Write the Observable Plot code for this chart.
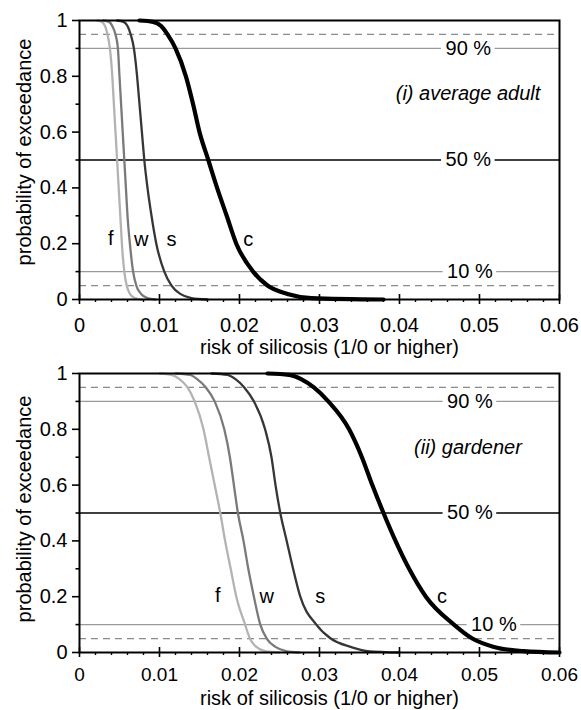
<!DOCTYPE html>
<html><head><meta charset="utf-8">
<script src="https://cdn.jsdelivr.net/npm/d3@7"></script>
<script src="https://cdn.jsdelivr.net/npm/@observablehq/plot@0.6"></script>
<style>
body{margin:0;background:#fff;}
#chart svg{display:block;}
</style>
</head><body><div id="chart"></div>
<script>
// Probability-of-exceedance levels at which the risk values were read
const probLevels = [1, 0.995, 0.98, 0.95, 0.9, 0.8, 0.7, 0.6, 0.5, 0.4, 0.3, 0.2, 0.1, 0.05, 0.02, 0.005, 0];
const seriesNames = ["f", "w", "s", "c"];

// (i) average adult – risk of silicosis at each level
const adultF = [0.0022, 0.0028, 0.0032, 0.0035, 0.0038, 0.0041, 0.0043, 0.0045, 0.0047, 0.0049, 0.0051, 0.0053, 0.0056, 0.0059, 0.0063, 0.0069, 0.0078];
const adultW = [0.0030, 0.0037, 0.0041, 0.0045, 0.0048, 0.0050, 0.0052, 0.0054, 0.0056, 0.0058, 0.0060, 0.0063, 0.0067, 0.0071, 0.0077, 0.0085, 0.0095];
const adultS = [0.0047, 0.0055, 0.0060, 0.0064, 0.0068, 0.0072, 0.0075, 0.0078, 0.0081, 0.0085, 0.0090, 0.0096, 0.0106, 0.0115, 0.0126, 0.0140, 0.0160];
const adultC = [0.0075, 0.0092, 0.0102, 0.0110, 0.0120, 0.0133, 0.0142, 0.0150, 0.0161, 0.0172, 0.0184, 0.0196, 0.0217, 0.0235, 0.0260, 0.0290, 0.0380];

// (ii) gardener
const gardF = [0.0100, 0.0115, 0.0125, 0.0135, 0.0144, 0.0155, 0.0162, 0.0169, 0.0176, 0.0182, 0.0189, 0.0196, 0.0207, 0.0213, 0.0221, 0.0232, 0.0250];
const gardW = [0.0120, 0.0138, 0.0147, 0.0158, 0.0169, 0.0181, 0.0188, 0.0193, 0.0198, 0.0205, 0.0211, 0.0218, 0.0226, 0.0234, 0.0245, 0.0258, 0.0275];
const gardS = [0.0165, 0.0185, 0.0195, 0.0206, 0.0218, 0.0232, 0.0240, 0.0245, 0.0251, 0.0259, 0.0267, 0.0276, 0.0296, 0.0314, 0.0339, 0.0360, 0.0400];
const gardC = [0.0235, 0.0262, 0.0277, 0.0293, 0.0311, 0.0337, 0.0353, 0.0366, 0.0380, 0.0395, 0.0412, 0.0433, 0.0468, 0.0491, 0.0518, 0.0555, 0.0600];

// Curve label positions (risk, prob)
const adultLabelX = [0.0039, 0.0077, 0.0115, 0.0211];
const adultLabelY = [0.22, 0.215, 0.215, 0.215];
const gardLabelX = [0.0173, 0.0234, 0.0301, 0.0453];
const gardLabelY = [0.205, 0.20, 0.20, 0.20];

// Reference levels
const dashedLevels = [0.95, 0.05];
const solidLevels = [0.9, 0.5, 0.1];
const solidLabels = ["90 %", "50 %", "10 %"];
const adultRefLabelX = [0.0486, 0.0486, 0.0488];
const gardRefLabelX = [0.0488, 0.0488, 0.0518];

const panelTags = ["(i) average adult", "(ii) gardener"];

const xTicks = [0, 0.01, 0.02, 0.03, 0.04, 0.05, 0.06];
const xTickLabels = ["0", "0.01", "0.02", "0.03", "0.04", "0.05", "0.06"];
const yTicks = [0, 0.2, 0.4, 0.6, 0.8, 1];
const yTickLabels = ["0", "0.2", "0.4", "0.6", "0.8", "1"];
const yMinor = [0.1, 0.3, 0.5, 0.7, 0.9];
const xMinor = d3.range(1, 30).map(i => +(i * 0.002).toFixed(3)).filter(v => !xTicks.some(t => Math.abs(t - v) < 1e-9));

const xTitle = "risk of silicosis (1/0 or higher)";
const yTitle = "probability of exceedance";

const seriesColors = ["#b3b3b3", "#7a7a7a", "#363636", "#000000"];
const seriesWidths = [2.3, 2.3, 2.3, 4.2];
const FONT = "'Liberation Sans', Arial, Helvetica, sans-serif";

function makePanel(cfg) {
  const curves = cfg.curves;
  const marks = [];
  // dashed reference lines
  marks.push(Plot.ruleY(dashedLevels, {stroke: "#8a8a8a", strokeWidth: 1.3, strokeDasharray: "7,5"}));
  // solid reference lines, broken around the label
  const gap = 0.00335;
  const segs = [];
  solidLevels.forEach((lv, i) => {
    const lx = cfg.refLabelX[i];
    const col = lv === 0.5 ? "#000" : "#9a9a9a";
    segs.push({y: lv, x1: 0, x2: lx - gap, col});
    segs.push({y: lv, x1: lx + gap, x2: 0.06, col});
  });
  marks.push(Plot.ruleY(segs, {y: "y", x1: "x1", x2: "x2", stroke: d => d.col, strokeWidth: 1.3}));
  marks.push(Plot.text(solidLevels.map((lv, i) => ({y: lv, x: cfg.refLabelX[i], t: solidLabels[i]})),
    {x: "x", y: "y", text: "t", fill: "#000", textAnchor: "middle"}));
  // curves
  seriesNames.forEach((name, i) => {
    const rows = probLevels.map((p, j) => ({risk: curves[i][j], prob: p}));
    marks.push(Plot.line(rows, {x: "risk", y: "prob", stroke: seriesColors[i], strokeWidth: seriesWidths[i], curve: "monotone-x"}));
  });
  // curve labels
  marks.push(Plot.text(seriesNames.map((n, i) => ({n, x: cfg.labelX[i], y: cfg.labelY[i]})),
    {x: "x", y: "y", text: "n", fill: "#000", textAnchor: "middle"}));
  // panel tag
  marks.push(Plot.text([cfg.tag], {x: cfg.tagX, y: cfg.tagY, textAnchor: "end", fontStyle: "italic", fill: "#000"}));
  // frame
  marks.push(Plot.frame({stroke: "#000", strokeWidth: 2}));
  // axes
  marks.push(Plot.axisY({ticks: yTicks, tickSize: 7, tickPadding: 5, strokeWidth: 1.6, tickFormat: d => yTickLabels[yTicks.indexOf(d)], label: null}));
  marks.push(Plot.axisY({ticks: yMinor, tickSize: 3.5, strokeWidth: 1.6, tickFormat: () => "", label: null}));
  marks.push(Plot.axisX({ticks: xTicks, tickSize: 5, tickPadding: cfg.xTickPad, strokeWidth: 1.6, fontSize: cfg.xTickFont, tickFormat: d => xTickLabels[xTicks.indexOf(d)], label: null}));
  marks.push(Plot.axisX({ticks: xTicks, tickSize: 5, dy: -5, strokeWidth: 1.6, tickFormat: () => "", label: null}));
  marks.push(Plot.axisX({ticks: xMinor, tickSize: 3, strokeWidth: 1.4, tickFormat: () => "", label: null}));
  // titles
  marks.push(Plot.text([yTitle], {frameAnchor: "left", rotate: -90, dx: -55, dy: cfg.yTitleDy, textAnchor: "middle", fill: "#000"}));
  marks.push(Plot.text([xTitle], {frameAnchor: "bottom", dx: 10, dy: cfg.xTitleDy, textAnchor: "middle", fill: "#000"}));

  return Plot.plot({
    width: 581,
    height: cfg.height,
    marginTop: cfg.marginTop,
    marginBottom: cfg.marginBottom,
    marginLeft: 79,
    marginRight: 22,
    x: {domain: [0, 0.06], label: null},
    y: {domain: [0, 1], label: null},
    style: {fontFamily: FONT, fontSize: "20px", background: "#fff", color: "#000"},
    marks
  });
}

const chart = document.getElementById("chart");
chart.appendChild(makePanel({
  curves: [adultF, adultW, adultS, adultC],
  labelX: adultLabelX, labelY: adultLabelY,
  refLabelX: adultRefLabelX,
  tag: panelTags[0], tagX: 0.0576, tagY: 0.738,
  height: 360, marginTop: 20, marginBottom: 61,
  xTickPad: 13, xTickFont: 20, xTitleDy: 54, yTitleDy: -8
}));
chart.appendChild(makePanel({
  curves: [gardF, gardW, gardS, gardC],
  labelX: gardLabelX, labelY: gardLabelY,
  refLabelX: gardRefLabelX,
  tag: panelTags[1], tagX: 0.0553, tagY: 0.736,
  height: 350, marginTop: 13, marginBottom: 58,
  xTickPad: 10, xTickFont: 19, xTitleDy: 52, yTitleDy: -4
}));
</script>
</body></html>
